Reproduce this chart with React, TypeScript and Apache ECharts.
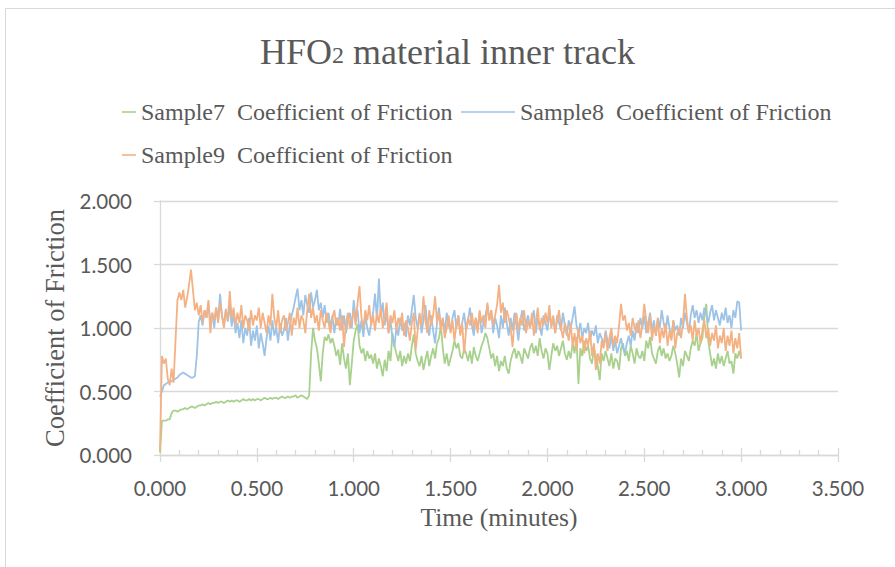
import React, { useEffect, useRef } from "react";
import * as echarts from "echarts";

// Sampling interval of the friction log, in minutes (301 samples, 0.00 to 3.00)
const SAMPLE_STEP = 0.01;

const seriesNames = [
  "Sample7  Coefficient of Friction",
  "Sample8  Coefficient of Friction",
  "Sample9  Coefficient of Friction",
];

const axisTicks = [0, 0.5, 1, 1.5, 2, 2.5, 3, 3.5];

// Sample7 coefficient of friction
const sample7 = [
  0.02, 0.27, 0.27, 0.27, 0.28, 0.28, 0.33, 0.35, 0.35, 0.34,
  0.35, 0.36, 0.36, 0.37, 0.36, 0.37, 0.38, 0.38, 0.37, 0.38,
  0.39, 0.39, 0.40, 0.39, 0.40, 0.41, 0.40, 0.41, 0.41, 0.42,
  0.41, 0.42, 0.42, 0.41, 0.42, 0.43, 0.42, 0.43, 0.42, 0.43,
  0.43, 0.42, 0.43, 0.44, 0.43, 0.43, 0.44, 0.43, 0.44, 0.43,
  0.44, 0.44, 0.43, 0.44, 0.45, 0.44, 0.44, 0.45, 0.44, 0.45,
  0.45, 0.44, 0.45, 0.46, 0.45, 0.45, 0.46, 0.45, 0.46, 0.46,
  0.47, 0.45, 0.46, 0.47, 0.46, 0.45, 0.44, 0.47, 0.80, 1.00,
  0.90, 0.84, 0.72, 0.58, 0.80, 0.93, 0.90, 0.95, 0.88, 0.92,
  0.86, 0.78, 0.83, 0.71, 0.88, 0.76, 0.68, 0.80, 0.55, 0.72,
  0.90, 0.98, 1.03, 0.86, 0.80, 0.84, 0.74, 0.82, 0.76, 0.79,
  0.72, 0.80, 0.68, 0.76, 0.70, 0.62, 0.75, 0.66, 0.82, 0.74,
  0.96, 0.86, 0.80, 0.74, 0.82, 0.70, 0.78, 0.72, 0.80, 0.74,
  0.86, 0.95, 0.80, 0.74, 0.70, 0.78, 0.67, 0.75, 0.82, 0.70,
  0.78, 0.84, 0.76, 0.88, 0.92, 1.02, 0.84, 0.72, 0.80, 0.70,
  0.76, 0.82, 0.90, 0.84, 0.88, 0.78, 0.76, 0.84, 0.80, 0.74,
  0.82, 0.72, 0.85, 0.78, 0.74, 0.80, 0.86, 0.90, 0.96, 0.92,
  0.84, 0.76, 0.80, 0.70, 0.78, 0.66, 0.74, 0.70, 0.78, 0.68,
  0.64, 0.74, 0.80, 0.84, 0.76, 0.82, 0.78, 0.72, 0.84, 0.80,
  0.76, 0.84, 0.88, 0.80, 0.86, 0.78, 0.92, 0.82, 0.76, 0.84,
  0.80, 0.67, 0.78, 0.88, 0.82, 0.86, 0.78, 0.84, 0.90, 0.80,
  0.75, 0.82, 0.76, 0.88, 0.80, 0.93, 0.56, 0.84, 0.78, 0.90,
  0.82, 0.86, 0.76, 0.72, 0.84, 0.78, 0.70, 0.59, 0.80, 0.74,
  0.82, 0.76, 0.70, 0.80, 0.68, 0.76, 0.74, 0.67, 0.84, 0.88,
  0.78, 0.82, 0.74, 0.86, 0.80, 0.72, 0.84, 0.78, 0.76, 0.82,
  0.74, 0.90, 0.84, 0.93, 0.80, 0.76, 0.72, 0.82, 0.86, 0.78,
  0.84, 0.76, 0.80, 0.74, 0.78, 0.86, 0.80, 0.72, 0.61, 0.76,
  0.70, 0.82, 0.78, 0.74, 0.84, 0.90, 0.86, 0.96, 0.82, 0.88,
  0.92, 1.10, 1.19, 0.90, 0.80, 0.70, 0.76, 0.68, 0.80, 0.72,
  0.78, 0.70, 0.76, 0.82, 0.72, 0.74, 0.64, 0.80, 0.76, 0.82,
  0.76,
];

// Sample8 coefficient of friction
const sample8 = [
  0.46, 0.50, 0.55, 0.56, 0.57, 0.58, 0.58, 0.59, 0.60, 0.61,
  0.63, 0.64, 0.65, 0.64, 0.63, 0.62, 0.61, 0.61, 0.62, 0.78,
  1.05, 1.10, 1.02, 1.14, 1.08, 1.20, 1.04, 1.12, 1.00, 1.16,
  1.06, 1.27, 1.10, 1.02, 1.15, 1.05, 1.18, 1.01, 1.12, 0.96,
  1.04, 0.92, 1.06, 0.88, 1.00, 0.94, 1.08, 0.86, 0.98, 0.90,
  1.02, 0.84, 0.96, 0.88, 0.78, 0.92, 1.02, 0.90, 1.06, 0.94,
  1.00, 0.88, 1.04, 0.94, 0.98, 1.08, 0.90, 1.02, 1.10, 1.16,
  1.24, 1.31, 1.14, 1.22, 1.10, 1.26, 1.18, 1.12, 1.28, 1.16,
  1.22, 1.30, 1.14, 1.20, 1.08, 1.18, 1.04, 1.12, 1.00, 1.10,
  0.96, 1.08, 1.02, 1.15, 0.98, 1.10, 0.96, 1.06, 1.12, 1.00,
  1.22, 1.08, 1.14, 0.96, 1.06, 0.93, 1.10, 1.00, 0.94, 1.04,
  1.12, 1.27, 1.06, 1.39, 1.10, 1.20, 1.02, 1.12, 0.96, 1.06,
  0.92, 0.85, 1.00, 0.94, 1.08, 0.98, 1.04, 0.93, 1.10, 1.02,
  1.14, 1.26, 1.08, 1.00, 1.12, 0.96, 1.06, 1.18, 1.02, 0.94,
  1.10, 0.98, 0.88, 1.04, 1.16, 1.00, 1.08, 0.96, 1.12, 1.02,
  0.98, 1.08, 1.14, 1.00, 1.10, 0.96, 1.04, 1.12, 0.98, 1.06,
  1.16, 1.02, 0.94, 1.08, 1.00, 1.12, 0.96, 1.04, 1.10, 1.18,
  1.06, 1.14, 0.96, 1.08, 1.02, 0.92, 1.10, 1.00, 1.16, 1.04,
  0.94, 1.08, 0.98, 1.12, 1.02, 0.90, 1.06, 1.14, 0.98, 1.04,
  1.10, 1.00, 1.06, 1.14, 0.96, 1.08, 1.02, 0.94, 1.10, 1.04,
  0.98, 1.12, 1.02, 1.08, 0.96, 1.10, 1.04, 0.98, 1.12, 1.02,
  0.94, 1.06, 1.00, 1.08, 1.17, 1.02, 0.96, 1.04, 0.92, 1.00,
  0.96, 1.04, 0.90, 0.98, 0.94, 1.02, 0.88, 0.96, 0.92, 0.86,
  0.98, 0.90, 0.84, 0.94, 0.82, 0.90, 0.80, 0.86, 0.92, 0.84,
  0.80, 0.88, 0.94, 0.86, 0.98, 0.90, 1.04, 0.96, 1.08, 1.00,
  1.10, 0.96, 1.04, 1.12, 0.98, 1.06, 0.94, 1.08, 1.00, 1.14,
  1.04, 0.96, 1.10, 1.00, 0.92, 1.06, 0.98, 1.02, 0.94, 1.08,
  1.00, 1.12, 1.04, 0.96, 1.10, 1.18, 1.08, 1.14, 1.04, 1.12,
  1.06, 1.16, 1.10, 1.04, 1.12, 1.18, 1.06, 1.14, 1.08, 1.02,
  1.12, 1.06, 1.16, 1.04, 1.10, 1.00, 1.14, 1.08, 1.21, 1.20,
  0.98,
];

// Sample9 coefficient of friction
const sample9 = [
  0.03, 0.78, 0.72, 0.76, 0.60, 0.55, 0.68, 0.57, 0.90, 1.22,
  1.28, 1.22, 1.30, 1.16, 1.24, 1.34, 1.46, 1.30, 1.14, 1.20,
  1.10, 1.18, 1.04, 1.14, 1.08, 1.22, 0.96, 1.12, 1.06, 1.16,
  1.04, 1.20, 1.10, 1.00, 1.14, 1.06, 1.29, 1.08, 1.16, 1.02,
  1.12, 1.04, 1.18, 1.00, 1.10, 1.06, 0.98, 1.14, 1.02, 1.10,
  1.06, 1.16, 1.00, 1.12, 1.04, 0.96, 1.10, 1.02, 1.27, 1.08,
  1.00, 1.14, 0.96, 1.06, 1.10, 0.98, 1.04, 1.12, 0.94, 1.08,
  1.02, 1.16, 1.00, 1.10, 1.06, 0.96, 1.14, 1.27, 1.08, 1.16,
  1.04, 1.10, 0.98, 1.14, 1.06, 1.00, 1.12, 1.04, 0.96, 1.08,
  1.14, 1.02, 1.08, 0.98, 1.10, 0.85, 1.04, 1.12, 1.00, 1.06,
  1.14, 1.02, 1.20, 1.33, 1.08, 1.00, 1.14, 1.06, 1.18, 1.02,
  1.10, 0.98, 1.12, 1.04, 1.16, 1.00, 1.08, 1.20, 0.96, 1.10,
  1.04, 1.14, 0.98, 1.08, 1.02, 1.12, 0.94, 1.06, 1.00, 0.90,
  1.04, 1.12, 0.83, 0.98, 1.10, 1.02, 1.25, 1.06, 0.96, 1.14,
  1.02, 1.10, 1.25, 1.04, 1.12, 0.98, 1.08, 0.92, 1.00, 1.10,
  0.96, 1.06, 0.90, 1.02, 1.10, 0.94, 1.04, 0.80, 0.98, 1.08,
  1.02, 1.12, 1.00, 1.08, 0.96, 1.14, 1.04, 1.10, 1.00, 1.20,
  1.06, 1.14, 1.02, 1.10, 1.18, 1.34, 1.12, 1.20, 1.04, 1.14,
  1.08, 1.00, 0.85, 1.06, 1.12, 0.98, 1.08, 1.02, 1.14, 0.96,
  1.06, 1.00, 1.12, 0.94, 1.04, 1.16, 0.98, 1.08, 1.02, 1.12,
  1.04, 1.18, 1.00, 1.10, 0.96, 1.06, 1.14, 1.00, 0.92, 1.04,
  0.98, 0.90, 1.04, 0.86, 0.96, 0.82, 1.00, 0.88, 0.94, 0.80,
  0.92, 0.86, 0.98, 0.78, 0.88, 0.67, 0.80, 0.72, 0.90, 0.84,
  0.96, 0.82, 0.92, 1.00, 0.86, 0.94, 0.88, 1.02, 1.19, 1.06,
  1.10, 0.98, 1.04, 0.94, 1.08, 1.00, 0.96, 1.06, 0.92, 1.02,
  1.19, 1.06, 0.96, 1.10, 0.90, 1.02, 0.94, 1.08, 0.88, 1.00,
  0.92, 1.04, 0.86, 0.98, 0.90, 1.06, 0.84, 0.96, 1.00, 0.92,
  1.04, 1.27, 1.08, 0.96, 1.02, 0.90, 1.06, 0.94, 1.00, 0.88,
  0.98, 1.06, 0.92, 1.00, 0.86, 0.96, 0.90, 1.02, 0.84, 0.94,
  0.88, 1.00, 0.82, 0.94, 0.86, 0.98, 0.80, 0.92, 0.84, 0.96,
  0.76,
];

const colors = ["#a9d18e", "#9dc3e6", "#f4b183"];

const SERIF = "'Liberation Serif', 'Times New Roman', serif";
const SANS = "Lato, 'Open Sans', sans-serif";
const TEXT_GREY = "#595959";
const LINE_GREY = "#d9d9d9";

const toPairs = (values: number[]) =>
  values.map((v, i) => [+(i * SAMPLE_STEP).toFixed(2), v]);

export default function App() {
  const ref = useRef<HTMLDivElement>(null);

  useEffect(() => {
    if (!ref.current) return;
    const chart = echarts.init(ref.current, null, { renderer: "svg" });
    const fmt = (v: number) => v.toFixed(3);

    // Legend entries show a plain short stroke in the series colour
    const legendBase = {
      orient: "horizontal" as const,
      icon: "rect",
      itemHeight: 1.6,
      padding: 0,
      textStyle: {
        fontFamily: SERIF,
        fontSize: 24,
        color: TEXT_GREY,
        lineHeight: 28,
      },
      selectedMode: false,
    };

    chart.setOption({
      animation: false,
      backgroundColor: "#ffffff",
      title: {
        text: "HFO{sub|2} material inner track",
        left: "center",
        top: 29,
        textStyle: {
          fontFamily: SERIF,
          fontSize: 36,
          fontWeight: "normal",
          color: TEXT_GREY,
          lineHeight: 36,
          rich: {
            sub: {
              fontFamily: SERIF,
              fontSize: 24,
              color: TEXT_GREY,
              verticalAlign: "bottom",
              padding: [0, 0, 3, 0],
            },
          },
        },
      },
      legend: [
        { ...legendBase, data: [seriesNames[0]], left: 122, top: 98, itemWidth: 14 },
        { ...legendBase, data: [seriesNames[1]], left: 461, top: 98, itemWidth: 54 },
        { ...legendBase, data: [seriesNames[2]], left: 122, top: 141, itemWidth: 14 },
      ],
      graphic: [
        {
          type: "rect",
          shape: { x: 5.5, y: 8.5, width: 1000, height: 1000 },
          style: { fill: "none", stroke: LINE_GREY, lineWidth: 1 },
          silent: true,
        },
      ],
      grid: { left: 160, right: 57, top: 201, bottom: 112, containLabel: false },
      xAxis: [
        {
          type: "value",
          min: axisTicks[0],
          max: axisTicks[axisTicks.length - 1],
          interval: 0.5,
          position: "bottom",
          name: "Time (minutes)",
          nameLocation: "middle",
          nameGap: 49,
          nameTextStyle: { fontFamily: SERIF, fontSize: 25.5, color: TEXT_GREY },
          axisLine: { show: true, onZero: false, lineStyle: { color: LINE_GREY, width: 1.3 } },
          axisTick: { show: true, inside: true, length: 7, lineStyle: { color: LINE_GREY, width: 1.3 } },
          minorTick: { show: true, splitNumber: 5, length: 5, lineStyle: { color: LINE_GREY, width: 1.3 } },
          splitLine: { show: false },
          axisLabel: {
            formatter: fmt,
            margin: 22,
            fontFamily: SANS,
            fontSize: 20.5,
            color: TEXT_GREY,
          },
        },
        {
          type: "value",
          min: axisTicks[0],
          max: axisTicks[axisTicks.length - 1],
          interval: 0.5,
          position: "bottom",
          axisLine: { show: false, onZero: false },
          axisTick: { show: true, inside: false, length: 7, lineStyle: { color: LINE_GREY, width: 1.3 } },
          splitLine: { show: false },
          axisLabel: { show: false },
        },
      ],
      yAxis: {
        type: "value",
        min: 0,
        max: 2,
        interval: 0.5,
        name: "Coefficient of Friction",
        nameLocation: "middle",
        nameGap: 90,
        nameTextStyle: { fontFamily: SERIF, fontSize: 26.5, color: TEXT_GREY },
        axisLine: { show: true, lineStyle: { color: LINE_GREY, width: 1.3 } },
        axisTick: { show: true, inside: false, length: 6, lineStyle: { color: LINE_GREY, width: 1.3 } },
        splitLine: { show: true, lineStyle: { color: LINE_GREY, width: 1.3 } },
        axisLabel: {
          formatter: fmt,
          margin: 28,
          fontFamily: SANS,
          fontSize: 20.5,
          color: TEXT_GREY,
        },
      },
      series: [sample7, sample8, sample9].map((values, i) => ({
        name: seriesNames[i],
        type: "line",
        xAxisIndex: 0,
        symbol: "none",
        data: toPairs(values),
        color: colors[i],
        lineStyle: { color: colors[i], width: 1.8 },
      })),
    });

    return () => chart.dispose();
  }, []);

  return (
    <div
      ref={ref}
      style={{ position: "fixed", left: 0, top: 0, width: 895, height: 567 }}
    />
  );
}
